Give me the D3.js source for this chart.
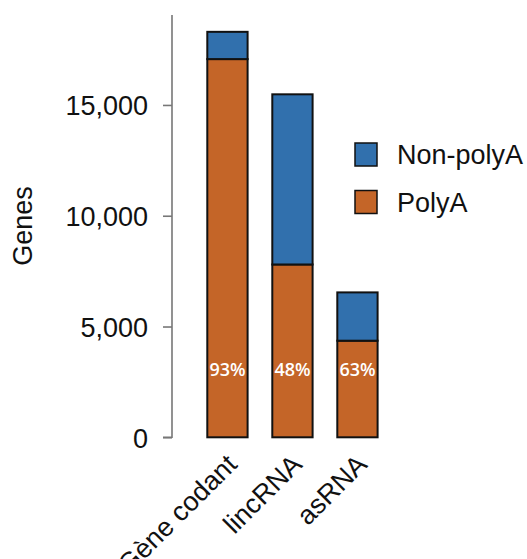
<!DOCTYPE html>
<html>
<head>
<meta charset="utf-8">
<script src="https://cdn.jsdelivr.net/npm/d3@7"></script>
<style>
    body { margin: 0; background: #fff; }
    .tick text, .axis-title, .cat-label, .legend-label {
        font-family: "Liberation Sans", Arial, sans-serif;
        font-size: 27px;
        fill: #111;
    }
    .pct-label {
        font-family: "Open Sans", "Noto Sans", sans-serif;
        font-size: 18px;
        font-weight: 600;
        fill: #fff;
    }
</style>
</head>
<body>
<div id="chart"></div>
<script>

// Data
let categories = ["Gène codant", "lincRNA", "asRNA"];
let polyA = [17070, 7800, 4360];
let nonPolyA = [1230, 7680, 2180];
let pctLabels = ["93%", "48%", "63%"];
let seriesNames = ["Non-polyA", "PolyA"];
let yTicks = [0, 5000, 10000, 15000];

let colors = {"PolyA": "#c46528", "Non-polyA": "#3170ad"};

let width = 527, height = 559;

let svg = d3.select("#chart")
    .append("svg")
    .attr("width", width)
    .attr("height", height);

// stacked rows
let rows = categories.map(function (c, i) {
    return {cat: c, "PolyA": polyA[i], "Non-polyA": nonPolyA[i], pct: pctLabels[i]};
});
let stack = d3.stack().keys(["PolyA", "Non-polyA"]);
let layers = stack(rows);

// Scales
let x = d3.scaleBand()
    .domain(categories)
    .range([174.8, 410.1])
    .paddingInner(0.38)
    .paddingOuter(0.5);

let y = d3.scaleLinear()
    .domain([0, 19060])
    .range([437.3, 15]);

// Y axis
let yAxis = d3.axisLeft(y)
    .tickValues(yTicks)
    .tickSize(9)
    .tickPadding(15)
    .tickFormat(d3.format(","));

let gy = svg.append("g")
    .attr("class", "y-axis")
    .attr("transform", "translate(172,0)")
    .call(yAxis);

gy.select(".domain")
    .attr("d", "M-9," + y(0) + "H0V" + y.range()[1])
    .attr("stroke", "#777")
    .attr("stroke-width", 1.6);
gy.selectAll(".tick line")
    .attr("stroke", "#777")
    .attr("stroke-width", 1.6);
gy.selectAll(".tick text")
    .attr("dy", "0.36em");

svg.append("text")
    .attr("class", "axis-title")
    .attr("transform", "translate(32," + 226 + ") rotate(-90)")
    .attr("text-anchor", "middle")
    .text("Genes");

// Bars
svg.selectAll(".layer")
    .data(layers)
    .enter().append("g")
    .attr("class", "layer")
    .attr("fill", function (d) { return colors[d.key]; })
    .selectAll("rect")
    .data(function (d) { return d; })
    .enter().append("rect")
    .attr("x", function (d) { return x(d.data.cat); })
    .attr("y", function (d) { return y(d[1]); })
    .attr("width", x.bandwidth())
    .attr("height", function (d) { return y(d[0]) - y(d[1]); })
    .attr("stroke", "#111")
    .attr("stroke-width", 2);

// Percent labels
svg.selectAll(".pct-label")
    .data(rows)
    .enter().append("text")
    .attr("class", "pct-label")
    .attr("x", function (d) { return x(d.cat) + x.bandwidth() / 2; })
    .attr("y", y(2750))
    .attr("text-anchor", "middle")
    .text(function (d) { return d.pct; });

// Category labels
svg.selectAll(".cat-label")
    .data(categories)
    .enter().append("text")
    .attr("class", "cat-label")
    .attr("text-anchor", "end")
    .attr("transform", function (d) {
        return "translate(" + (x(d) + x.bandwidth() / 2 + 11) + ",466) rotate(-45)";
    })
    .text(function (d) { return d; });

// Legend
let legend = svg.selectAll(".legend")
    .data(seriesNames)
    .enter().append("g")
    .attr("class", "legend")
    .attr("transform", function (d, i) { return "translate(355," + (143 + i * 47.5) + ")"; });

legend.append("rect")
    .attr("width", 22)
    .attr("height", 23)
    .attr("fill", function (d) { return colors[d]; })
    .attr("stroke", "#111")
    .attr("stroke-width", 1.5);

legend.append("text")
    .attr("class", "legend-label")
    .attr("x", 42)
    .attr("y", 11.5)
    .attr("dy", "0.36em")
    .text(function (d) { return d; });

</script>
</body>
</html>
